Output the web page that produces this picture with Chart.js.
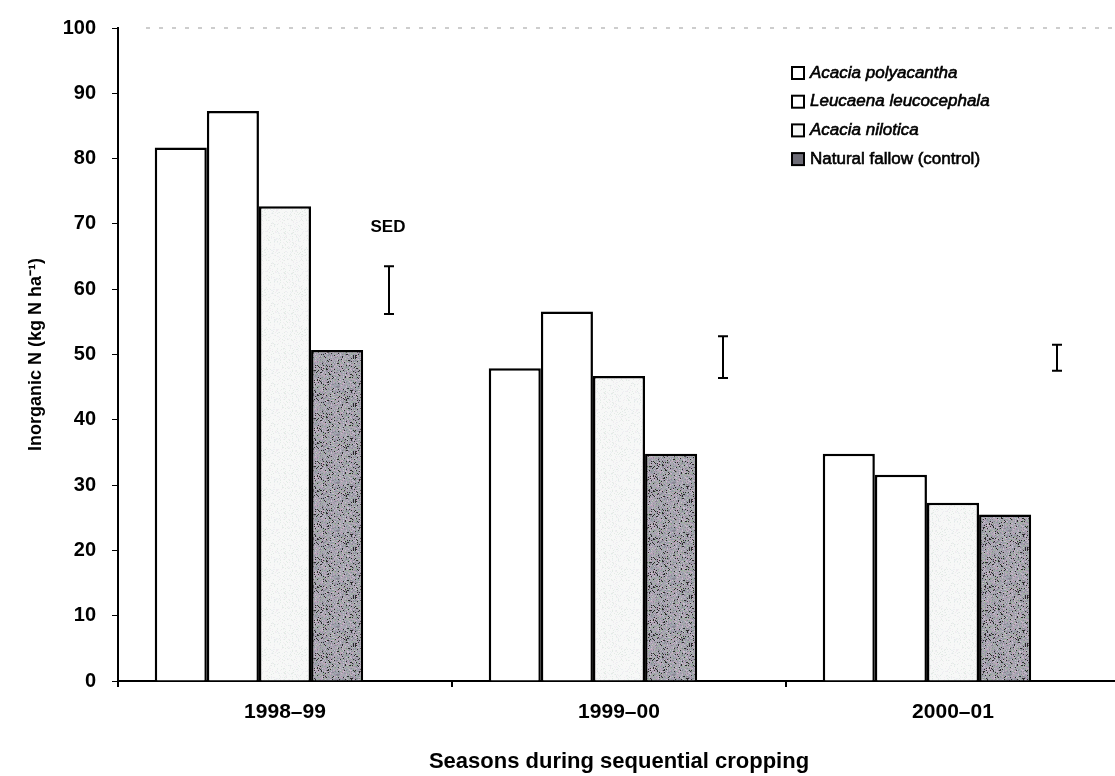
<!DOCTYPE html>
<html>
<head>
<meta charset="utf-8">
<script src="https://cdn.jsdelivr.net/npm/chart.js@4.4.1/dist/chart.umd.min.js"></script>
<style>
  html, body { margin: 0; padding: 0; background: #fff; overflow: hidden; }
  canvas { display: block; }
</style>
</head>
<body>
<canvas id="nChart" width="1122" height="776"></canvas>
<script>
// ── data ─────────────────────────────────────────────────────────────
const seasons      = ['1998–99', '1999–00', '2000–01'];
const polyacantha  = [81.7, 47.9, 34.8];
const leucocephala = [87.3, 56.6, 31.6];
const nilotica     = [72.7, 46.7, 27.3];
const fallow       = [50.7, 34.8, 25.5];
const sedLow  = [56.2, 46.4, 47.5];
const sedHigh = [63.5, 52.8, 51.5];
const yTicks  = [0, 10, 20, 30, 40, 50, 60, 70, 80, 90, 100];

const FONT = "'Liberation Sans', Arial, sans-serif";

// speckled fills (deterministic hash, no randomness)
function hash(x, y) {
  let h = Math.imul(x, 374761393) + Math.imul(y, 668265263);
  h = Math.imul(h ^ (h >>> 13), 1274126177);
  return (h ^ (h >>> 16)) >>> 0;
}
function speckle(base, dots, size, spread) {
  const c = document.createElement('canvas');
  c.width = c.height = size;
  const g = c.getContext('2d');
  g.fillStyle = base;
  g.fillRect(0, 0, size, size);
  for (let y = 0; y < size; y++) {
    for (let x = 0; x < size; x++) {
      const k = hash(x, y) % spread;
      if (k < dots.length) {
        g.fillStyle = dots[k];
        g.fillRect(x, y, 1, 1);
      }
    }
  }
  return g.createPattern(c, 'repeat');
}
const lightFill = speckle('#f7f8f7', ['#e3ebe6', '#eceff2', '#f0ecf0'], 40, 14);
const darkFill  = speckle('#a9a8b2', ['#93a0a6', '#bfa6bb', '#9bb09b', '#8a8994', '#2a2a2a', '#c8bacc', '#9d95ab'], 48, 11);

const legendItems = [
  { text: 'Acacia polyacantha',       italic: true,  fill: '#ffffff' },
  { text: 'Leucaena leucocephala',    italic: true,  fill: '#ffffff' },
  { text: 'Acacia nilotica',          italic: true,  fill: '#f6f7f6' },
  { text: 'Natural fallow (control)', italic: false, fill: '#6d6c76' },
];

const extras = {
  id: 'extras',
  afterDatasetsDraw(chart) {
    const ctx = chart.ctx;
    // SED error bars
    const meta = chart.getDatasetMeta(4);
    ctx.save();
    ctx.strokeStyle = '#000';
    ctx.lineWidth = 2;
    meta.data.forEach((el, i) => {
      const top = Math.min(el.y, el.base), bot = Math.max(el.y, el.base);
      const x = Math.round(el.x);
      ctx.beginPath();
      ctx.moveTo(x, top); ctx.lineTo(x, bot);
      ctx.moveTo(x - 5, top); ctx.lineTo(x + 5, top);
      ctx.moveTo(x - 5, bot); ctx.lineTo(x + 5, bot);
      ctx.stroke();
      if (i === 0) {
        ctx.fillStyle = '#000';
        ctx.font = 'bold 17px ' + FONT;
        ctx.textAlign = 'center';
        ctx.textBaseline = 'middle';
        ctx.fillText('SED', x - 1, top - 39);
      }
    });
    // legend
    let y = 73;
    legendItems.forEach(it => {
      ctx.fillStyle = it.fill;
      ctx.fillRect(792, y - 6, 12, 12);
      ctx.lineWidth = 2;
      ctx.strokeStyle = '#000';
      ctx.strokeRect(792, y - 6, 12, 12);
      ctx.fillStyle = '#000';
      ctx.font = (it.italic ? 'italic ' : '') + '17px ' + FONT;
      ctx.textAlign = 'left';
      ctx.textBaseline = 'middle';
      ctx.lineWidth = 0.6;
      ctx.fillText(it.text, 810, y);
      ctx.strokeText(it.text, 810, y);
      y += 28.7;
    });
    ctx.restore();
  }
};

const barStyle = { borderColor: '#000', borderWidth: 2.5, borderSkipped: 'bottom' };

new Chart(document.getElementById('nChart'), {
  type: 'bar',
  data: {
    labels: seasons,
    datasets: [
      { label: 'Acacia polyacantha', data: polyacantha, backgroundColor: '#ffffff', ...barStyle },
      { label: 'Leucaena leucocephala', data: leucocephala, backgroundColor: '#ffffff', ...barStyle },
      { label: 'Acacia nilotica', data: nilotica, backgroundColor: lightFill, ...barStyle },
      { label: 'Natural fallow (control)', data: fallow, backgroundColor: darkFill, ...barStyle },
      { label: 'SED', data: sedLow.map((v, i) => [v, sedHigh[i]]), backgroundColor: 'rgba(0,0,0,0)', borderWidth: 0 },
    ]
  },
  options: {
    responsive: false,
    animation: false,
    events: [],
    categoryPercentage: 0.78,
    barPercentage: 1.0,
    layout: { padding: { top: 26, right: 2, left: 0, bottom: 0 } },
    plugins: { legend: { display: false }, tooltip: { enabled: false } },
    scales: {
      x: {
        afterFit: s => { s.height = 95; },
        border: { color: '#000', width: 2 },
        grid: { drawOnChartArea: false, tickLength: 6, tickColor: '#000', lineWidth: 2, offset: true },
        ticks: { color: '#000', padding: 13, font: { family: FONT, size: 21, weight: 'bold' } },
        title: {
          display: true, text: 'Seasons during sequential cropping', color: '#000',
          font: { family: FONT, size: 22, weight: 'bold' }, padding: { top: 0, bottom: 1 }
        }
      },
      y: {
        min: 0, max: 100,
        afterFit: s => { s.width = 118; },
        afterBuildTicks: s => { s.ticks = yTicks.map(v => ({ value: v })); },
        border: { color: '#000', width: 2 },
        grid: {
          drawOnChartArea: false,
          tickColor: '#000', tickLength: 6
        },
        ticks: { color: '#000', padding: 16, font: { family: FONT, size: 20, weight: 'bold' } },
        title: {
          display: true, text: 'Inorganic N (kg N ha⁻¹)', color: '#000',
          font: { family: FONT, size: 18, weight: 'bold' }, padding: { top: 25, bottom: 0 }
        }
      }
    }
  },
  plugins: [extras, {
    id: 'topDots',
    beforeDatasetsDraw(chart) {
      // faint dashed rule at the top of the plot (100), sparse like the scan
      const y = chart.scales.y.getPixelForValue(100);
      const ctx = chart.ctx;
      ctx.save();
      ctx.strokeStyle = '#cdcdcd';
      ctx.lineWidth = 2;
      ctx.setLineDash([4, 9]);
      ctx.beginPath();
      ctx.moveTo(chart.chartArea.left + 28, y);
      ctx.lineTo(chart.chartArea.right, y);
      ctx.stroke();
      ctx.restore();
    }
  }]
});
</script>
</body>
</html>
